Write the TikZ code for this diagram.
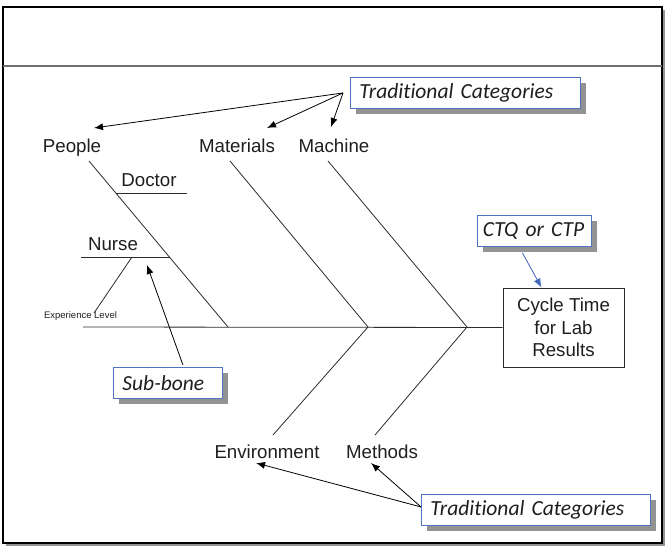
\documentclass[tikz,border=0pt]{standalone}
\usepackage{fontspec}
\setmainfont{Liberation Sans}
\newfontfamily\calloutfont[Ligatures=NoCommon]{Carlito}
\usetikzlibrary{positioning,arrows.meta,calc,shadows}
\definecolor{boneline}{HTML}{2B2B2B}
\definecolor{calloutblue}{HTML}{4F73C0}
\definecolor{shadowgray}{HTML}{939393}
\definecolor{headerline}{HTML}{6E6E6E}
\definecolor{ctqarrow}{HTML}{4466BB}
\definecolor{labeltext}{HTML}{1E1E1E}
\tikzset{
  callout/.style={draw=calloutblue,fill=white,line width=0.9pt,inner xsep=9pt,
    minimum height=31pt,align=left,text=labeltext,
    font=\calloutfont\itshape\fontsize{21.5}{25}\selectfont,
    drop shadow={shadow xshift=6pt,shadow yshift=-6pt,fill=shadowgray,opacity=1}},
  catlabel/.style={anchor=base,inner sep=2pt,text=labeltext,
    font=\fontsize{18.7}{22.5}\selectfont},
  bone/.style={draw=boneline,line width=0.8pt},
  pointer/.style={draw=black,line width=0.8pt,-{Latex[length=9pt,width=7pt]}},
}
\begin{document}
\begin{tikzpicture}[x=1pt,y=-1pt]
        \useasboundingbox (0,0) rectangle (668,548);
        % Marco
        \fill[shadowgray] (6,543) rectangle (665,546);
        \fill[shadowgray] (662,10) rectangle (665,546);
        \draw[line width=2.5pt] (3,7) rectangle (662,543);
        \draw[headerline,line width=1.2pt] (3,66) -- (662,66);
        % Efecto
        \node[draw=boneline,line width=0.9pt,minimum width=121pt,minimum height=79pt,
          align=center,inner sep=2pt,text=labeltext,font=\fontsize{18.7}{22.5}\selectfont]
          (effect) at (563.5,327.5) {Cycle Time\\for Lab\\Results};
        % Espina y huesos
        \coordinate (spinestart) at (83,327);
        \foreach \n/\x in {jpeople/228,jmat/368,jmach/467}{
          \coordinate (\n) at (\x,327);}
        \draw[bone] (spinestart) -- (effect.west);
        \foreach \n/\x/\y in {tpeople/89/161,tmat/230/161,tmach/328/161,
          benv/273/435,bmeth/375/435}{
          \coordinate (\n) at (\x,\y);}
        \draw[bone] (tpeople) -- (jpeople);
        \draw[bone] (tmat) -- (jmat);
        \draw[bone] (tmach) -- (jmach);
        \draw[bone] (jmat) -- (benv);
        \draw[bone] (jmach) -- (bmeth);
        % Sub-huesos
        \coordinate (doca) at (116,193); \coordinate (docb) at (187,193);
        \coordinate (nura) at (81,257);  \coordinate (nurb) at (170,257);
        \coordinate (expa) at (132,257); \coordinate (expb) at (94,313);
        \draw[bone] (doca) -- (docb);
        \draw[bone] (nura) -- (nurb);
        \draw[bone] (expa) -- (expb);
        % Etiquetas
        \node[catlabel] (people) at (72,153) {People};
        \node[catlabel] (materials) at (237,153) {Materials};
        \node[catlabel] (machine) at (334,153) {Machine};
        \node[catlabel] (doctor) at (149,186) {Doctor};
        \node[catlabel] (nurse) at (113,250) {Nurse};
        \node[catlabel,font=\fontsize{9.5}{11}\selectfont] (explevel) at (80.5,318) {Experience Level};
        \node[catlabel] (environment) at (267,458) {Environment};
        \node[catlabel] (methods) at (382,458) {Methods};
        % Notas
        \node[callout,text width=212pt,anchor=north west] (topcat) at (350,77) {Traditional Categories};
        \node[callout,text width=211pt,anchor=north west] (botcat) at (421,494) {Traditional Categories};
        \node[callout,text width=91pt,anchor=north west] (subbone) at (113,367) {Sub-bone};
        \node[callout,text width=103pt,inner xsep=5.5pt,anchor=north west] (ctq) at (477,215) {CTQ or CTP};
        % Flechas
        \coordinate (topsrc) at ([xshift=-7pt]topcat.west);
        \coordinate (botsrc) at ([yshift=3pt]botcat.west);
        \foreach \n/\x/\y in {ppeople/94/128,pmat/267/128,pmach/331/127,
          penv/256/463,pmeth/371/463,psub/147/265}{
          \coordinate (\n) at (\x,\y);}
        \draw[pointer] (topsrc) -- (ppeople);
        \draw[pointer] (topsrc) -- (pmat);
        \draw[pointer] (topsrc) -- (pmach);
        \draw[pointer] (botsrc) -- (penv);
        \draw[pointer] (botsrc) -- (pmeth);
        \draw[pointer] ([xshift=15pt,yshift=2pt]subbone.north) -- (psub);
        \draw[pointer,draw=ctqarrow,fill=ctqarrow] ([xshift=-12pt,yshift=-6pt]ctq.south) -- ([xshift=-22pt]effect.north);
      \end{tikzpicture}
\end{document}
